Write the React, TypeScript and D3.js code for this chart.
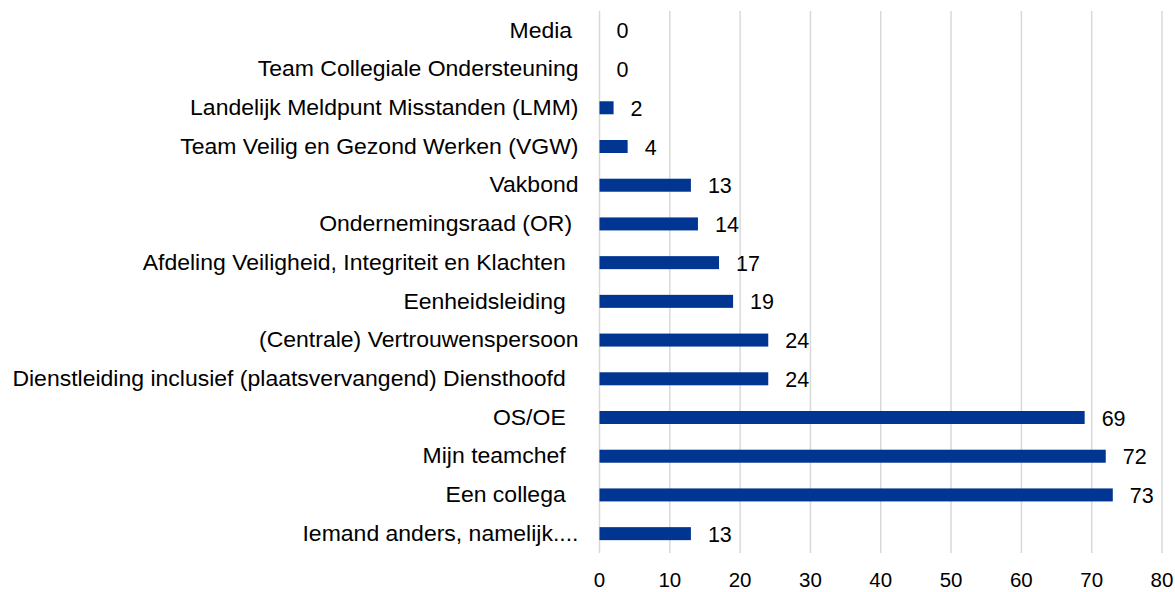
import React from "react";
import * as d3 from "d3";

const categories = [
  "Media ",
  "Team Collegiale Ondersteuning",
  "Landelijk Meldpunt Misstanden (LMM)",
  "Team Veilig en Gezond Werken (VGW)",
  "Vakbond",
  "Ondernemingsraad (OR) ",
  "Afdeling Veiligheid, Integriteit en Klachten  ",
  "Eenheidsleiding  ",
  "(Centrale) Vertrouwenspersoon",
  "Dienstleiding inclusief (plaatsvervangend) Diensthoofd  ",
  "OS/OE  ",
  "Mijn teamchef  ",
  "Een collega  ",
  "Iemand anders, namelijk....",
];
const values = [0, 0, 2, 4, 13, 14, 17, 19, 24, 24, 69, 72, 73, 13];
const xTicks = [0, 10, 20, 30, 40, 50, 60, 70, 80];

const W = 1175;
const H = 592;
const FONT = "'Liberation Sans', Arial, sans-serif";

export default function App() {
  const x = d3.scaleLinear().domain([0, 80]).range([599.5, 1162]);
  const y = d3
    .scaleBand<string>()
    .domain(categories)
    .range([11, 553])
    .paddingInner(0.664)
    .paddingOuter(0.332);
  const bw = y.bandwidth();

  return (
    <svg
      width={W}
      height={H}
      style={{ position: "absolute", left: 0, top: 0, background: "#fff" }}
      fontFamily={FONT}
    >
      {xTicks.map((t) => (
        <line
          key={"g" + t}
          x1={x(t)}
          x2={x(t)}
          y1={11}
          y2={553}
          stroke="#d9d9d9"
          strokeWidth={1.5}
        />
      ))}
      {categories.map((c, i) => (
        <rect
          key={"b" + i}
          x={x(0)}
          y={y(c)!}
          width={x(values[i]) - x(0)}
          height={bw}
          fill="#003591"
        />
      ))}
      {categories.map((c, i) => (
        <text
          key={"v" + i}
          x={x(values[i]) + 17}
          y={y(c)! + bw / 2 + 1}
          dominantBaseline="central"
          fontSize={21.5}
          fill="#000"
        >
          {values[i]}
        </text>
      ))}
      {categories.map((c, i) => (
        <text
          key={"l" + i}
          transform={`translate(578.5,${y(c)! + bw / 2}) scale(1.07,1)`}
          dominantBaseline="central"
          textAnchor="end"
          fontSize={21.5}
          fill="#000"
          style={{ whiteSpace: "pre" }}
        >
          {c}
        </text>
      ))}
      {xTicks.map((t) => (
        <text
          key={"t" + t}
          x={x(t)}
          y={579}
          dominantBaseline="central"
          textAnchor="middle"
          fontSize={20.5}
          fill="#000"
        >
          {t}
        </text>
      ))}
    </svg>
  );
}
